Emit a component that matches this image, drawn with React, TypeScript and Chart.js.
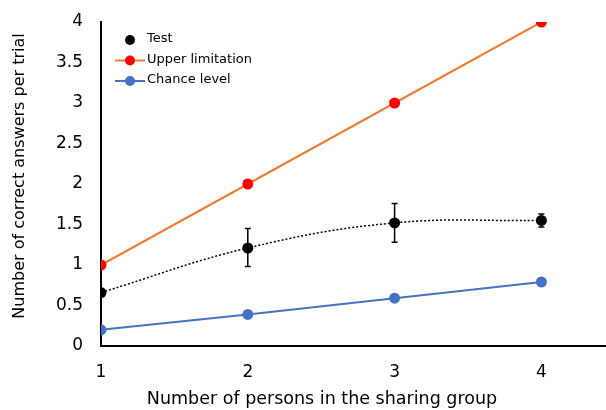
import { useEffect, useRef } from "react";
import { Chart, registerables } from "chart.js";

Chart.register(...registerables);

const groupSizes = [1, 2, 3, 4];
const testMeans = [0.66, 1.21, 1.52, 1.55];
const testLow = [0.66, 0.98, 1.28, 1.47];
const testHigh = [0.66, 1.45, 1.76, 1.63];
const upperLimit = [1, 2, 3, 4];
const chanceLevel = [0.2, 0.39, 0.59, 0.79];
const xTicks = [1, 2, 3, 4];
const yTicks = [0, 0.5, 1, 1.5, 2, 2.5, 3, 3.5, 4];
const xTitle = "Number of persons in the sharing group";
const yTitle = "Number of correct answers per trial";

const FONT = "DejaVu Sans, Verdana, sans-serif";

const errorBarPlugin = {
  id: "errorBars",
  afterDatasetsDraw(chart: any) {
    const { ctx, scales } = chart;
    const x = scales.x;
    const y = scales.y;
    ctx.save();
    ctx.strokeStyle = "#000";
    ctx.lineWidth = 1.5;
    groupSizes.forEach((g, i) => {
      if (testHigh[i] === testLow[i]) return;
      const px = x.getPixelForValue(g);
      const top = y.getPixelForValue(testHigh[i]);
      const bot = y.getPixelForValue(testLow[i]);
      ctx.beginPath();
      ctx.moveTo(px, top);
      ctx.lineTo(px, bot);
      ctx.moveTo(px - 3, top);
      ctx.lineTo(px + 3, top);
      ctx.moveTo(px - 3, bot);
      ctx.lineTo(px + 3, bot);
      ctx.stroke();
    });
    ctx.restore();
  },
};

const titlesPlugin = {
  id: "axisTitles",
  afterDraw(chart: any) {
    const { ctx } = chart;
    ctx.save();
    ctx.fillStyle = "#000";
    ctx.textAlign = "center";
    ctx.textBaseline = "middle";
    ctx.font = `17.5px ${FONT}`;
    ctx.fillText(xTitle, 322, 399);
    ctx.translate(20, 176);
    ctx.rotate(-Math.PI / 2);
    ctx.font = `16px ${FONT}`;
    ctx.fillText(yTitle, 0, 0);
    ctx.restore();
  },
};

const legendPlugin = {
  id: "insideLegend",
  afterDraw(chart: any) {
    const { ctx } = chart;
    const items = chart.data.datasets;
    ctx.save();
    ctx.font = `13px ${FONT}`;
    ctx.textBaseline = "middle";
    ctx.textAlign = "left";
    items.forEach((d: any, i: number) => {
      const cy = 40 + i * 20.5;
      const cx = 130;
      if (d.legendLine) {
        ctx.strokeStyle = d.borderColor;
        ctx.lineWidth = 2;
        ctx.beginPath();
        ctx.moveTo(115, cy);
        ctx.lineTo(145, cy);
        ctx.stroke();
      }
      ctx.fillStyle = d.pointBackgroundColor;
      ctx.beginPath();
      ctx.arc(cx, cy, 5, 0, Math.PI * 2);
      ctx.fill();
      ctx.fillStyle = "#000";
      ctx.fillText(d.label, 147, cy - 1);
    });
    ctx.restore();
  },
};

const zeroPad = (s: any) => {
  s.paddingTop = 0;
  s.paddingBottom = 0;
  s.paddingLeft = 0;
  s.paddingRight = 0;
};

export default function App() {
  const ref = useRef<HTMLCanvasElement | null>(null);
  useEffect(() => {
    if (!ref.current) return;
    const chart = new Chart(ref.current, {
      type: "line",
      data: {
        datasets: [
          {
            label: "Test",
            data: groupSizes.map((g, i) => ({ x: g, y: testMeans[i] })),
            borderColor: "#000",
            borderWidth: 1.5,
            borderDash: [2, 2],
            tension: 0.4,
            pointRadius: 5.5,
            pointBackgroundColor: "#000",
            pointBorderColor: "#000",
            pointBorderWidth: 0,
            legendLine: false,
          } as any,
          {
            label: "Upper limitation",
            data: groupSizes.map((g, i) => ({ x: g, y: upperLimit[i] })),
            borderColor: "#ED7D31",
            borderWidth: 2,
            pointRadius: 5.5,
            pointBackgroundColor: "#FF0000",
            pointBorderColor: "#FF0000",
            pointBorderWidth: 0,
            legendLine: true,
          } as any,
          {
            label: "Chance level",
            data: groupSizes.map((g, i) => ({ x: g, y: chanceLevel[i] })),
            borderColor: "#4472C4",
            borderWidth: 2,
            pointRadius: 5.5,
            pointBackgroundColor: "#4472C4",
            pointBorderColor: "#4472C4",
            pointBorderWidth: 0,
            legendLine: true,
          } as any,
        ],
      },
      options: {
        animation: false,
        responsive: false,
        layout: { autoPadding: false, padding: { top: 22, right: 0, left: 0, bottom: 0 } },
        plugins: {
          legend: { display: false },
          tooltip: { enabled: false },
        },
        scales: {
          x: {
            type: "linear",
            min: 1,
            max: 4.44,
            afterBuildTicks: (s: any) => {
              s.ticks = xTicks.map((v) => ({ value: v }));
            },
            afterFit: (s: any) => {
              s.height = 64;
              zeroPad(s);
            },
            grid: { display: false, drawTicks: false },
            border: { display: true, color: "#000", width: 2 },
            ticks: {
              padding: 16,
              color: "#000",
              font: { family: FONT, size: 17 },
              callback: (v: any) => String(v),
            },
          },
          y: {
            type: "linear",
            min: 0,
            max: 4,
            afterBuildTicks: (s: any) => {
              s.ticks = yTicks.map((v) => ({ value: v }));
            },
            afterFit: (s: any) => {
              s.width = 101;
              zeroPad(s);
            },
            grid: { display: false, drawTicks: false },
            border: { display: true, color: "#000", width: 2 },
            ticks: {
              padding: 18,
              color: "#000",
              font: { family: FONT, size: 17 },
              callback: (v: any) => String(v),
            },
          },
        },
      },
      plugins: [errorBarPlugin, titlesPlugin, legendPlugin],
    });
    return () => chart.destroy();
  }, []);
  return (
    <div style={{ position: "fixed", left: 0, top: 0, width: 606, height: 410, background: "#fff" }}>
      <canvas ref={ref} width={606} height={410} style={{ width: 606, height: 410 }} />
    </div>
  );
}
